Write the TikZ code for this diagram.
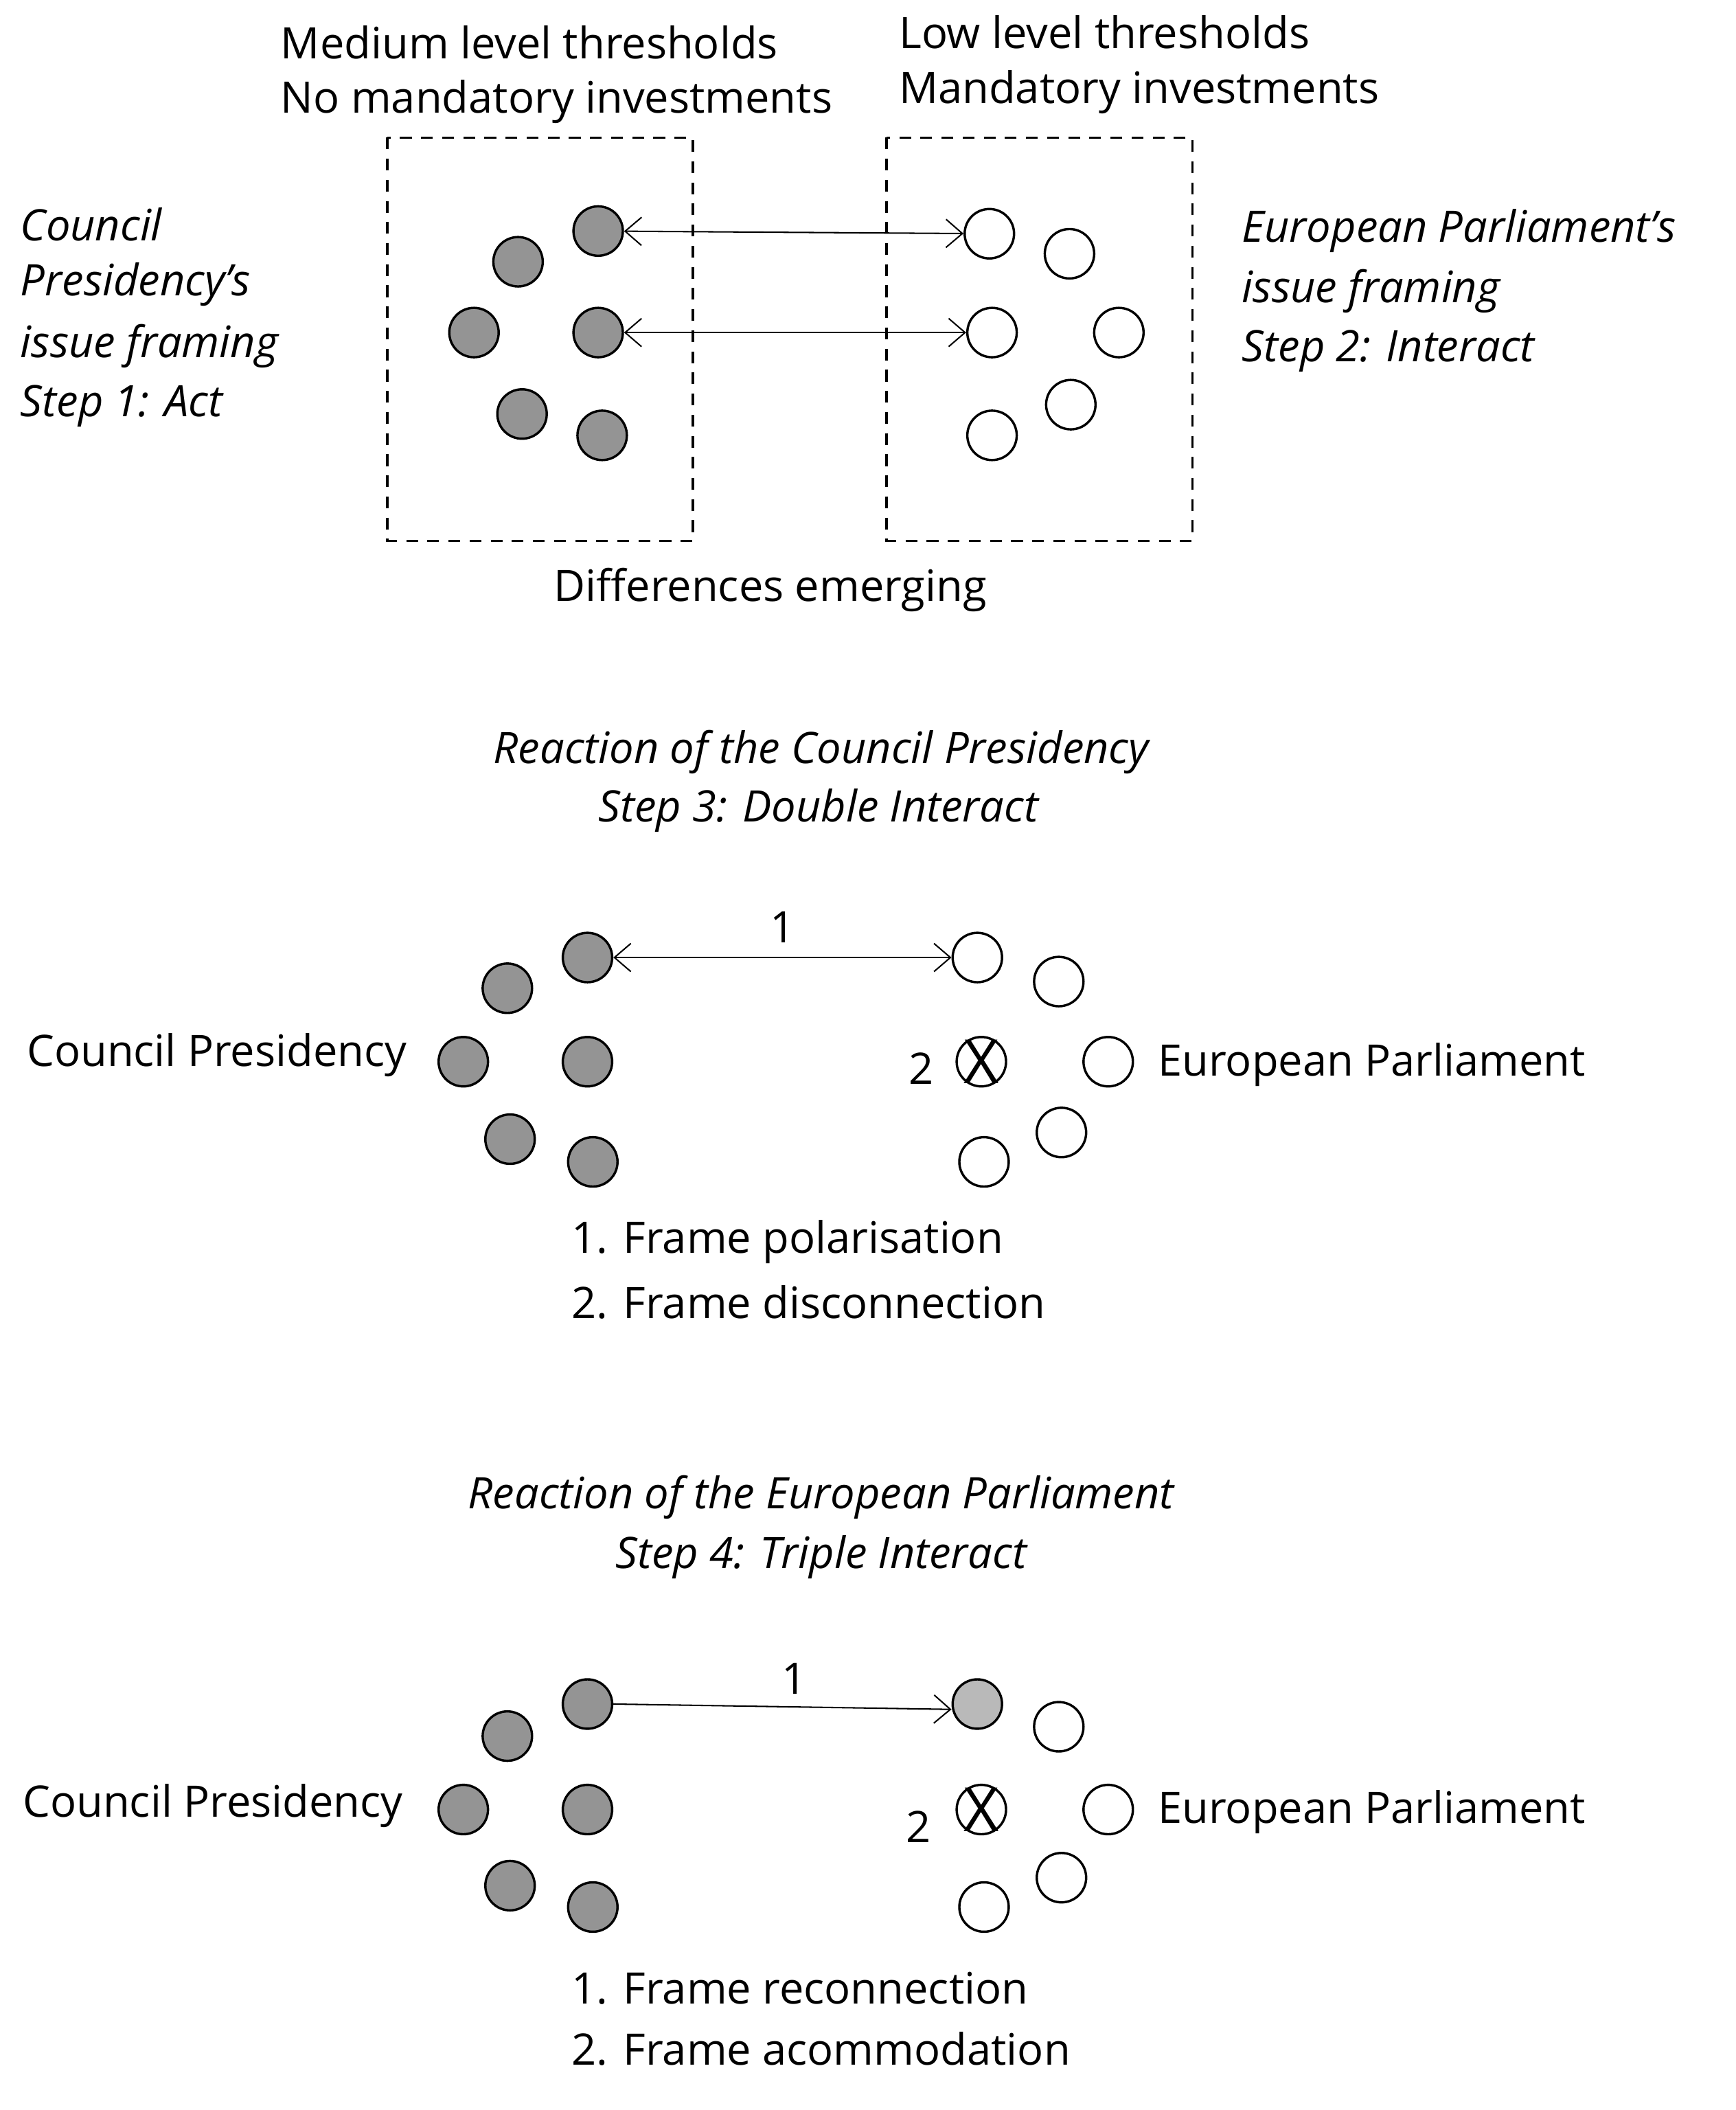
\documentclass[tikz,border=0pt]{standalone}
\usepackage{fontspec}
\setmainfont{Open Sans}
\usetikzlibrary{arrows.meta}
\begin{document}
\begin{tikzpicture}[x=0.02cm,y=-0.02cm,
  txt/.style={font=\fontsize{18.5}{22}\selectfont,inner sep=0pt},
  itx/.style={txt,font=\fontsize{18.5}{22}\selectfont\itshape},
  dk/.style={circle,draw,line width=1pt,fill=gray!80!black!70,minimum size=0.74cm,inner sep=0pt},
  wt/.style={circle,draw,line width=1pt,fill=white,minimum size=0.74cm,inner sep=0pt},
  lg/.style={circle,draw,line width=1pt,fill=gray!55,minimum size=0.74cm,inner sep=0pt},
  xx/.style={font=\fontsize{26}{26}\selectfont,inner sep=0pt},
  box/.style={draw,dashed,line width=1pt,dash pattern=on 5pt off 4pt},
  arr/.style={line width=0.6pt,{Straight Barb[length=7pt,width=12pt]}-{Straight Barb[length=7pt,width=12pt]}},
  arrr/.style={line width=0.6pt,-{Straight Barb[length=7pt,width=12pt]}}]
\useasboundingbox (0,0) rectangle (1300,1580);
% top
\draw[box] (290,103) rectangle (519,405);
\draw[box] (664,103) rectangle (893,405);
\node[txt,anchor=west] (t1) at (210,32) {Medium level thresholds};
\node[txt,anchor=west] (t2) at (210,76) {No mandatory investments};
\node[txt,anchor=west] (t3) at (673,24) {Low level thresholds};
\node[txt,anchor=west] (t4) at (673,69) {Mandatory investments};
\node[itx,anchor=west] (l1) at (15,168) {Council};
\node[itx,anchor=west] (l2) at (15,213) {Presidency’s};
\node[itx,anchor=west] (l3) at (15,259) {issue framing};
\node[itx,anchor=west] (l4) at (15,304) {Step 1: Act};
\node[itx,anchor=west] (r1) at (930,173) {European Parliament’s};
\node[itx,anchor=west] (r2) at (930,218) {issue framing};
\node[itx,anchor=west] (r3) at (930,263) {Step 2: Interact};
\node[txt] (de) at (577,442) {Differences emerging};
\node[dk] (a1) at (448,173) {}; \node[dk] (a2) at (388,196) {};
\node[dk] (a3) at (355,249) {}; \node[dk] (a4) at (448,249) {};
\node[dk] (a5) at (391,310) {}; \node[dk] (a6) at (451,326) {};
\node[wt] (b1) at (741,175) {}; \node[wt] (b2) at (801,190) {};
\node[wt] (b3) at (743,249) {}; \node[wt] (b4) at (838,249) {};
\node[wt] (b5) at (802,303) {}; \node[wt] (b6) at (743,326) {};
\draw[arr] (a1) -- (b1);
\draw[arr] (a4) -- (b3);
% middle
\node[itx] (h1) at (615,563) {Reaction of the Council Presidency};
\node[itx] (h2) at (613,607) {Step 3: Double Interact};
\node[dk] (c1) at (440,717) {}; \node[dk] (c2) at (380,740) {};
\node[dk] (c3) at (347,795) {}; \node[dk] (c4) at (440,795) {};
\node[dk] (c5) at (382,853) {}; \node[dk] (c6) at (444,870) {};
\node[wt] (d1) at (732,717) {}; \node[wt] (d2) at (793,735) {};
\node[wt] (d3) at (830,795) {}; \node[wt] (d4) at (735,795) {};
\node[wt] (d5) at (795,848) {}; \node[wt] (d6) at (737,870) {};
\node[xx] (x1) at (d4) {X};
\draw[arr] (c1) -- node[txt,above=6pt] (n1) {1} (d1);
\node[txt] (n2) at (690,800) {2};
\node[txt,anchor=east] (cp1) at (305,790) {Council Presidency};
\node[txt,anchor=west] (ep1) at (867,797) {European Parliament};
\node[txt,anchor=west] (f1) at (428,930) {1. Frame polarisation};
\node[txt,anchor=west] (f2) at (428,975) {2. Frame disconnection};
% bottom
\node[itx] (h3) at (615,1121) {Reaction of the European Parliament};
\node[itx] (h4) at (615,1166) {Step 4: Triple Interact};
\node[dk] (e1) at (440,1276) {}; \node[dk] (e2) at (380,1300) {};
\node[dk] (e3) at (347,1355) {}; \node[dk] (e4) at (440,1355) {};
\node[dk] (e5) at (382,1412) {}; \node[dk] (e6) at (444,1428) {};
\node[lg] (g1) at (732,1276) {}; \node[wt] (g2) at (793,1293) {};
\node[wt] (g3) at (830,1355) {}; \node[wt] (g4) at (735,1355) {};
\node[wt] (g5) at (795,1406) {}; \node[wt] (g6) at (737,1428) {};
\node[xx] (x2) at (g4) {X};
\draw[arrr] (e1.east) -- (g1.west |- 0,1280);
\node[txt] (m1) at (595,1257) {1};
\node[txt] (m2) at (688,1368) {2};
\node[txt,anchor=east] (cp2) at (302,1352) {Council Presidency};
\node[txt,anchor=west] (ep2) at (867,1357) {European Parliament};
\node[txt,anchor=west] (f3) at (428,1489) {1. Frame reconnection};
\node[txt,anchor=west] (f4) at (428,1534) {2. Frame acommodation};
\end{tikzpicture}
\end{document}
